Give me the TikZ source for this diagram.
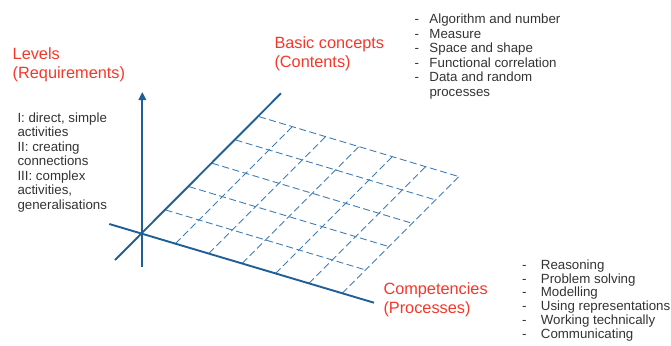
\documentclass[tikz,border=0pt]{standalone}
\usepackage{fontspec}
\setmainfont{Liberation Sans}
\usetikzlibrary{arrows.meta,calc}
\definecolor{axisblue}{HTML}{1F5F95}
\definecolor{gridblue}{HTML}{3F7DB5}
\definecolor{labelred}{HTML}{F5372A}
\begin{document}
\begin{tikzpicture}[x=1pt,y=-1pt,
  axisline/.style={draw=axisblue,line width=1.9pt},
  gridline/.style={draw=gridblue,line width=0.9pt,dash pattern=on 7pt off 3.5pt},
  redlabel/.style={text=labelred,inner sep=0pt,anchor=base west,font=\fontsize{16.3}{19}\selectfont},
  bodytext/.style={text=black!80,inner sep=0pt,anchor=base west,font=\fontsize{13.3}{14.5}\selectfont}]
\useasboundingbox (0,0) rectangle (671,345);
% axes
\coordinate (O) at (142.3,233.3);
\coordinate (vbot) at (142.3,267);
\coordinate (vtop) at (142.3,92);
\coordinate (dbot) at (115,260);
\coordinate (dtop) at (281,93.3);
\coordinate (cleft) at (109.3,224);
\coordinate (cright) at (374,302.7);
% grid
\foreach \i in {1,...,5}{
  \draw[gridline] ($(O)+\i*(23.333,-23.333)$) coordinate (g\i) -- ($(O)+\i*(23.333,-23.333)+6*(33.333,10)$) coordinate (h\i);
}
\foreach \j in {1,...,6}{
  \draw[gridline] ($(O)+\j*(33.333,10)$) coordinate (k\j) -- ($(O)+\j*(33.333,10)+5*(23.333,-23.333)$) coordinate (m\j);
}
\draw[axisline] (dbot) -- (dtop);
\draw[axisline] (cleft) -- (cright);
\draw[axisline,-{Triangle[length=8pt,width=7.5pt]}] (vbot) -- (vtop);
% red labels
\node[redlabel] (lev1) at (12.5,59.3) {Levels};
\node[redlabel] (lev2) at (12.5,78.3) {(Requirements)};
\node[redlabel] (bc1) at (274.3,48.3) {Basic concepts};
\node[redlabel] (bc2) at (274.3,67.3) {(Contents)};
\node[redlabel] (cp1) at (383.3,294) {Competencies};
\node[redlabel] (cp2) at (383.3,313.3) {(Processes)};
% level description
\foreach \t [count=\n from 0] in {{I: direct, simple},activities,II: creating,connections,III: complex,{activities,},generalisations}{
  \node[bodytext] (lv\n) at (17.3,122+14.5*\n) {\t};
}
% content list
\foreach \d/\t [count=\n from 0] in {-/Algorithm and number,-/Measure,-/Space and shape,-/Functional correlation,-/Data and random,/processes}{
  \node[bodytext] (ct\n) at (414.5,23.5+14.5*\n) {\makebox[14.8pt][l]{\d}\t};
}
% competency list
\foreach \t [count=\n from 0] in {Reasoning,Problem solving,Modelling,Using representations,Working technically,Communicating}{
  \node[bodytext] (cl\n) at (522,269.3+13.75*\n) {\makebox[18.7pt][l]{-}\t};
}
\end{tikzpicture}
\end{document}
